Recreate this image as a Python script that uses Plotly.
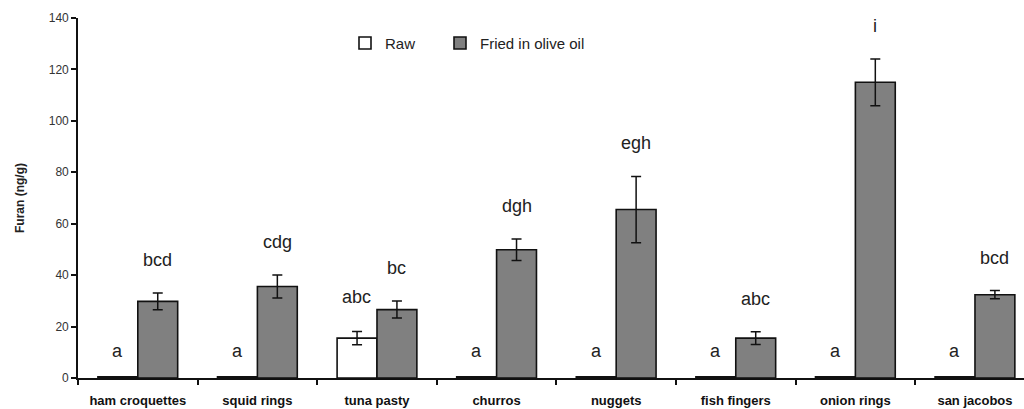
import plotly.graph_objects as go

categories = ["ham croquettes", "squid rings", "tuna pasty", "churros",
              "nuggets", "fish fingers", "onion rings", "san jacobos"]
raw_values = [0.5, 0.5, 15.5, 0.5, 0.5, 0.5, 0.5, 0.5]
raw_errors = [0, 0, 2.6, 0, 0, 0, 0, 0]
fried_values = [29.8, 35.6, 26.6, 49.9, 65.5, 15.5, 115.0, 32.4]
fried_errors = [3.3, 4.5, 3.3, 4.2, 12.9, 2.5, 9.1, 1.6]
raw_letters = ["a", "a", "abc", "a", "a", "a", "a", "a"]
fried_letters = ["bcd", "cdg", "bc", "dgh", "egh", "abc", "i", "bcd"]
y_ticks = [0, 20, 40, 60, 80, 100, 120, 140]

FONT = "Liberation Sans, Arial, sans-serif"

fig = go.Figure()
fig.add_trace(go.Bar(
    x=categories, y=raw_values, name="Raw", legend="legend", showlegend=True,
    marker=dict(color="white", line=dict(color="#111111", width=1.6)),
    error_y=dict(type="data", array=raw_errors, visible=True,
                 color="#111111", thickness=1.5, width=5),
))
fig.add_trace(go.Bar(
    x=categories, y=fried_values, name="Fried in olive oil", legend="legend2", showlegend=True,
    marker=dict(color="#808080", line=dict(color="#111111", width=1.6)),
    error_y=dict(type="data", array=fried_errors, visible=True,
                 color="#111111", thickness=1.5, width=5),
))

annotations = []
for cat, v, e, t in zip(categories, raw_values, raw_errors, raw_letters):
    annotations.append(dict(x=cat, y=v + e, text=t, xshift=-20, yshift=14 if e == 0 else 22,
                            yanchor="bottom", showarrow=False,
                            font=dict(family=FONT, size=18, color="#222222")))
for cat, v, e, t in zip(categories, fried_values, fried_errors, fried_letters):
    annotations.append(dict(x=cat, y=v + e, text=t, xshift=20, yshift=21,
                            yanchor="bottom", showarrow=False,
                            font=dict(family=FONT, size=18, color="#222222")))

legend_style = dict(orientation="h", yanchor="middle", xanchor="left", visible=True,
                    font=dict(family=FONT, size=15, color="#222222"),
                    bgcolor="rgba(0,0,0,0)", itemwidth=30)

fig.update_layout(
    width=1024, height=409,
    margin=dict(l=78, r=0, t=18, b=31),
    paper_bgcolor="white", plot_bgcolor="white",
    showlegend=True,
    barmode="group", bargap=0.333, bargroupgap=0,
    font=dict(family=FONT, color="#222222"),
    annotations=annotations,
    legend=dict(x=(345 - 78) / 946, y=0.93, **legend_style),
    legend2=dict(x=(440 - 78) / 946, y=0.93, **legend_style),
    xaxis=dict(
        type="category", range=[-0.5, 7.41],
        showline=True, linecolor="#111111", linewidth=1.6,
        ticks="outside", tickson="boundaries", ticklen=5, tickcolor="#111111", tickwidth=1.5,
        tickfont=dict(family=FONT, size=13, color="#111111", weight="bold"),
        ticklabelstandoff=10,
        showgrid=False, zeroline=False,
    ),
    yaxis=dict(
        range=[0, 140], tickvals=y_ticks,
        showline=True, linecolor="#111111", linewidth=1.6,
        ticks="outside", ticklen=5, tickcolor="#111111", tickwidth=1.5,
        tickfont=dict(family=FONT, size=12, color="#333333"),
        showgrid=False, zeroline=False,
        title=dict(text="<b>Furan (ng/g)</b>", font=dict(family=FONT, size=12, color="#222222"),
                   standoff=22),
    ),
)

fig.write_html("out.html")
